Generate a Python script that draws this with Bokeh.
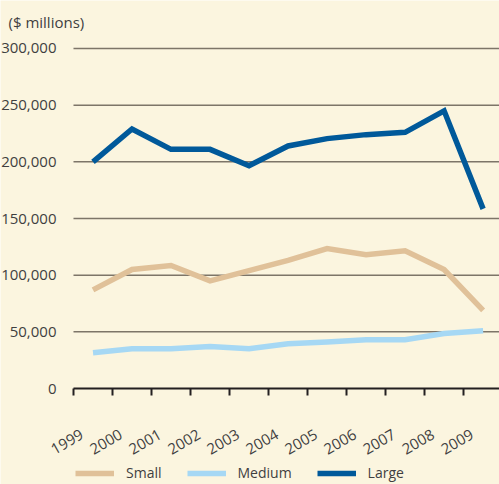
from bokeh.plotting import figure
from bokeh.models import (Range1d, LinearAxis, FixedTicker, NumeralTickFormatter,
                          Legend, LegendItem, CustomJSTickFormatter, Label)
from bokeh.embed import file_html
from bokeh.resources import INLINE

# ---- data ----
years = [1999, 2000, 2001, 2002, 2003, 2004, 2005, 2006, 2007, 2008, 2009]
small = [87000, 105000, 108500, 95000, 104000, 113000, 123500, 118000, 121500, 105000, 69000]
medium = [31500, 35000, 35000, 37000, 35000, 39500, 41000, 43000, 43000, 48500, 51000]
large = [200000, 229000, 211000, 211000, 196500, 214000, 220500, 224000, 226000, 245000, 158500]
series_names = ["Small", "Medium", "Large"]
y_ticks = [0, 50000, 100000, 150000, 200000, 250000, 300000]
y_title = "($ millions)"

# ---- style ----
BG = "#FBF5DF"
TEXT = "#3f3f3f"
COLORS = ["#E0C199", "#A6D8F4", "#00599A"]
FONT = "Open Sans"

x_pos = [y + 0.5 for y in years]   # values sit in the middle of each year slot
x_start = years[0] - 1.871
x_end = years[0] + 10.92
label_shift = 0.22

# the frame fills the whole figure; axes are pinned at x = 1999 and y = 0
p = figure(width=499, height=484,
           x_range=Range1d(x_start, x_end), y_range=Range1d(-84700, 342350),
           output_backend="svg", toolbar_location=None,
           min_border=0,
           background_fill_color=BG, border_fill_color=BG, outline_line_color=None)

p.add_layout(Label(x=8, y=473, x_units="screen", y_units="screen", text=y_title,
                   text_baseline="top", text_font=FONT, text_font_size="15px",
                   text_color=TEXT))

# grid lines, starting at the y axis
p.xgrid.visible = False
p.ygrid.visible = False
grid_vals = y_ticks[1:]
p.segment(x0=[years[0]] * len(grid_vals), y0=grid_vals,
          x1=[x_end] * len(grid_vals), y1=grid_vals,
          line_color="#7d7568", line_width=1.5)

# y axis
p.yaxis.fixed_location = years[0]
p.yaxis.ticker = FixedTicker(ticks=y_ticks)
p.yaxis.formatter = NumeralTickFormatter(format="0,0")
p.yaxis.axis_line_color = None
p.yaxis.major_tick_line_color = None
p.yaxis.minor_tick_line_color = None
p.yaxis.major_label_standoff = 11
p.yaxis.major_label_text_font = FONT
p.yaxis.major_label_text_font_size = "15px"
p.yaxis.major_label_text_color = TEXT

# x axis: line + ticks only
p.xaxis.fixed_location = 0
p.xaxis.bounds = (years[0], x_end)
p.xaxis.ticker = FixedTicker(ticks=years)
p.xaxis.formatter = CustomJSTickFormatter(code="return ''")
p.xaxis.axis_line_color = "#231f20"
p.xaxis.axis_line_width = 2
p.xaxis.major_tick_line_color = "#231f20"
p.xaxis.major_tick_line_width = 2
p.xaxis.major_tick_out = 7
p.xaxis.major_tick_in = 0
p.xaxis.minor_tick_line_color = None
p.xaxis.major_label_standoff = 0

# x axis: rotated year labels, shifted slightly to the right of the ticks
p.extra_x_ranges["lab"] = Range1d(x_start - label_shift, x_end - label_shift)
lab_axis = LinearAxis(x_range_name="lab", ticker=FixedTicker(ticks=years),
                      fixed_location=0,
                      axis_line_color=None, major_tick_line_color=None,
                      minor_tick_line_color=None, major_tick_out=0, major_tick_in=0,
                      major_label_orientation=0.52, major_label_standoff=45,
                      major_label_text_font=FONT, major_label_text_font_size="15px",
                      major_label_text_color=TEXT)
p.add_layout(lab_axis, "below")

renderers = []
for vals, col in zip([small, medium, large], COLORS):
    r = p.line(x_pos, vals, line_color=col, line_width=5.5, line_join="miter")
    renderers.append(r)

legend = Legend(items=[LegendItem(label=n, renderers=[r]) for n, r in zip(series_names, renderers)],
                orientation="horizontal", location=(75, 2),
                glyph_width=39, glyph_height=16, label_height=16, label_standoff=12, spacing=25,
                padding=0, margin=0, border_line_color=None, background_fill_alpha=0,
                label_text_font=FONT, label_text_font_size="14px", label_text_color=TEXT)
p.add_layout(legend, "center")

open("out.html", "w").write(file_html(p, INLINE))
